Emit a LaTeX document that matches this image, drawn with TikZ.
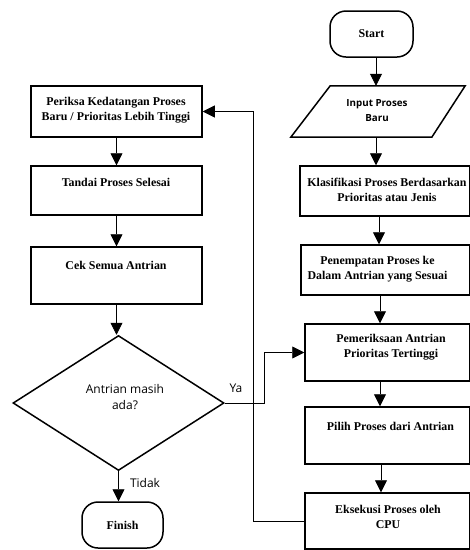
\documentclass[tikz,border=0pt]{standalone}
\usepackage{fontspec}
\setmainfont{Liberation Serif}
\newfontfamily\osans{Open Sans}
\usetikzlibrary{arrows.meta,shapes.geometric}
\begin{document}
\begin{tikzpicture}[x=1pt,y=-1pt,
  box/.style={draw,line width=1.5pt,inner sep=0pt},
  txt/.style={font=\bfseries\fontsize{11.9}{15}\selectfont,align=center,inner sep=0pt},
  stxt/.style={font=\osans\fontsize{12}{16}\selectfont,align=center,inner sep=0pt},
  itxt/.style={font=\osans\bfseries\fontsize{9.8}{15}\selectfont,align=center,inner sep=0pt},
  arr/.style={-{Triangle[length=12pt,width=12pt]},line width=0.8pt}]
\useasboundingbox (0,0) rectangle (470,550);
% right column
\node[box,rounded corners=16pt,minimum width=83pt,minimum height=46pt,txt] (start) at (371.5,34) {Start};
\node[inner sep=0pt,minimum width=174pt,minimum height=51pt] (input) at (378,111.5) {};
\draw[line width=1.5pt] (input.south west) -- ++(141,0) -- (input.north east) -- ++(-135,0) -- cycle;
\node[itxt] (inputtxt) at (377,111) {Input Proses\\Baru};
\node[box,minimum width=170pt,minimum height=50pt] (klas) at (385,191) {};
\node[txt] (klastxt) at (387,190) {Klasifikasi Proses Berdasarkan\\Prioritas atau Jenis};
\node[box,minimum width=169pt,minimum height=50pt] (pen) at (385.5,270) {};
\node[txt] (pentxt) at (377.5,269) {Penempatan Proses ke\\Dalam Antrian yang Sesuai};
\node[box,minimum width=165pt,minimum height=57pt] (pem) at (387.5,352.5) {};
\node[txt] (pemtxt) at (391,347.5) {Pemeriksaan Antrian\\Prioritas Tertinggi};
\node[box,minimum width=165pt,minimum height=57pt] (pil) at (387.5,435.5) {};
\node[txt] (piltxt) at (390.5,426) {Pilih Proses dari Antrian};
\node[box,minimum width=165pt,minimum height=56pt] (eks) at (387.5,521) {};
\node[txt] (ekstxt) at (388,516.5) {Eksekusi Proses oleh\\CPU};
% left column
\node[box,minimum width=171pt,minimum height=51pt] (per) at (116.5,111.5) {};
\node[txt] (pertxt) at (116,110) {Periksa Kedatangan Proses\\Baru / Prioritas Lebih Tinggi};
\node[box,minimum width=171pt,minimum height=49pt] (tan) at (116.5,190.5) {};
\node[txt] (tantxt) at (116,182) {Tandai Proses Selesai};
\node[box,minimum width=171pt,minimum height=57pt] (cek) at (116.5,275.5) {};
\node[txt] (cektxt) at (116,265) {Cek Semua Antrian};
\node[draw,diamond,line width=1.5pt,inner sep=0pt,minimum width=211pt,minimum height=135pt] (dia) at (118.5,403) {};
\node[stxt] (diatxt) at (125,397) {Antrian masih\\ada?};
\node[box,rounded corners=16pt,minimum width=81pt,minimum height=46pt,txt] (fin) at (122.5,525) {Finish};
% connectors
\draw[arr] ([xshift=4.5pt]start.south) -- ([xshift=-2pt]input.north);
\draw[arr] ([xshift=-2pt]input.south) -- ([xshift=-9pt]klas.north);
\draw[arr] ([xshift=-6pt]klas.south) -- ([xshift=-6.5pt]pen.north);
\draw[arr] ([xshift=-5.5pt]pen.south) -- ([xshift=-7.5pt]pem.north);
\draw[arr] ([xshift=-7.5pt]pem.south) -- ([xshift=-7.5pt]pil.north);
\draw[arr] ([xshift=-6.5pt]pil.south) -- ([xshift=-6.5pt]eks.north);
\draw[arr] (per.south) -- (tan.north);
\draw[arr] (tan.south) -- (cek.north);
\draw[arr] (cek.south) -- (cek.south |- dia.north);
\draw[arr] (dia.south) -- (dia.south |- fin.north);
\draw[arr] (dia.east) -- ++(40,0) |- (pem.west);
\draw[arr] (eks.west) -- ++(-51,0) |- (per.east);
\node[stxt] (ya) at (236,388) {Ya};
\node[stxt] (tidak) at (145,483) {Tidak};
\end{tikzpicture}
\end{document}
